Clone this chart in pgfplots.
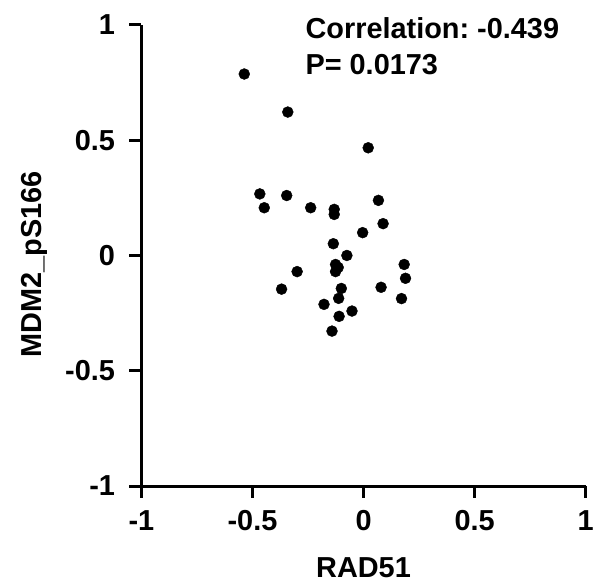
\documentclass[border=0pt]{standalone}
\usepackage{pgfplots}
\pgfplotsset{compat=1.18}
\usepackage{fontspec}
\setmainfont{Liberation Sans}

\begin{document}
\frenchspacing
\begin{tikzpicture}
\begin{axis}[
    name=ax,
    scale only axis,
    width=446pt, height=463pt,
    xmin=-1, xmax=1, ymin=-1, ymax=1,
    axis x line*=bottom, axis y line*=left,
    axis line style={line width=3pt},
    xtick={-1,-0.5,0,0.5,1}, ytick={-1,-0.5,0,0.5,1},
    xticklabels={-1,-0.5,0,0.5,1}, yticklabels={-1,-0.5,0,0.5,1},
    tick align=outside, major tick length=12pt,
    tick style={line width=3pt, black},
    tick label style={font=\fontsize{29}{34}\selectfont\bfseries},
    xticklabel style={yshift=-9pt},
    yticklabel style={xshift=-11pt},
    xlabel={RAD51}, ylabel={MDM2\_pS166},
    every axis x label/.style={at={(axis description cs:0.5,0)}, anchor=center, yshift=-82pt,
        font=\fontsize{29}{34}\selectfont\bfseries},
    every axis y label/.style={at={(axis description cs:0,0.5)}, xshift=-100pt, yshift=-9pt,
        rotate=90, anchor=base, font=\fontsize{29}{34}\selectfont\bfseries},
    clip=false,
]
\addplot[only marks, mark=*, mark size=5.5pt, black] coordinates {
(-0.537,0.787) (-0.341,0.622) (0.021,0.467) (-0.467,0.267) (-0.346,0.260)
(-0.447,0.207) (-0.238,0.207) (-0.132,0.200) (-0.132,0.178) (0.067,0.239)
(0.088,0.138) (-0.004,0.099) (-0.136,0.051) (-0.075,0.0) (-0.126,-0.039)
(-0.114,-0.052) (-0.126,-0.070) (-0.299,-0.070) (0.183,-0.039) (0.189,-0.099)
(-0.369,-0.146) (-0.100,-0.143) (0.079,-0.138) (0.171,-0.187) (-0.112,-0.186)
(-0.178,-0.212) (-0.052,-0.241) (-0.110,-0.264) (-0.142,-0.328)
};
\node[anchor=base west, font=\fontsize{29}{34}\selectfont\bfseries, inner sep=0pt] at (axis cs:-0.262,0.942) {Correlation: -0.439};
\node[anchor=base west, font=\fontsize{29}{34}\selectfont\bfseries, inner sep=0pt] at (axis cs:-0.262,0.786) {P= 0.0173};
\end{axis}
\path ([yshift=25pt]ax.north west) -- ([yshift=-98pt]ax.south west);
\path ([xshift=-142pt]ax.west) -- ([xshift=9pt]ax.east);
\end{tikzpicture}
\end{document}
